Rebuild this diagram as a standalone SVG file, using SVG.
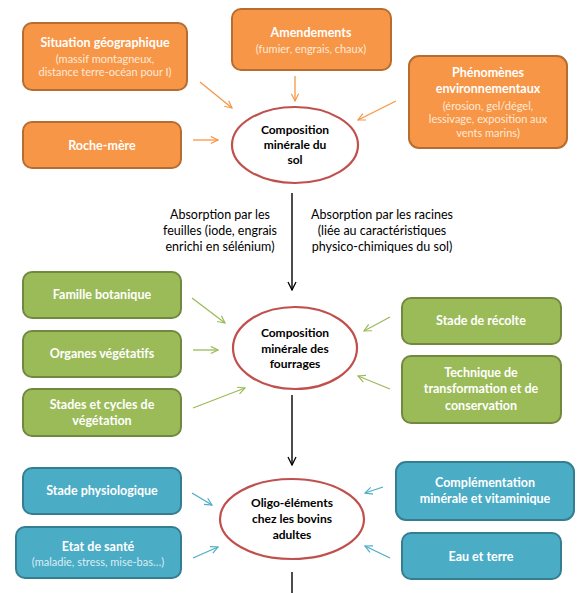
<svg xmlns="http://www.w3.org/2000/svg" width="588" height="593" viewBox="0 0 588 593">
<defs>
<marker id="ao" viewBox="0 0 10 10" refX="9" refY="5" markerWidth="9" markerHeight="9" markerUnits="userSpaceOnUse" orient="auto"><path d="M1,1 L9,5 L1,9" fill="none" stroke="#F79646" stroke-width="1.3"/></marker>
<marker id="ag" viewBox="0 0 10 10" refX="9" refY="5" markerWidth="9" markerHeight="9" markerUnits="userSpaceOnUse" orient="auto"><path d="M1,1 L9,5 L1,9" fill="none" stroke="#9BBB59" stroke-width="1.3"/></marker>
<marker id="ab" viewBox="0 0 10 10" refX="9" refY="5" markerWidth="9" markerHeight="9" markerUnits="userSpaceOnUse" orient="auto"><path d="M1,1 L9,5 L1,9" fill="none" stroke="#4BACC6" stroke-width="1.3"/></marker>
<marker id="ak" viewBox="0 0 10 10" refX="9" refY="5" markerWidth="10" markerHeight="10" markerUnits="userSpaceOnUse" orient="auto"><path d="M1,1 L9,5 L1,9" fill="none" stroke="#000" stroke-width="1.3"/></marker>
</defs>
<style>
.o{fill:#F79646;stroke:#B66D31;stroke-width:2}
.g{fill:#9BBB59;stroke:#71893F;stroke-width:2}
.b{fill:#4BACC6;stroke:#357D91;stroke-width:2}
.e{fill:#fff;stroke:#C0504D;stroke-width:2.2}
text{font-family:"Lato","Liberation Sans",sans-serif;text-anchor:middle}
.t{fill:#fff;font-weight:bold;font-size:12.5px}
.s{fill:#FDE9D9;font-size:11px}
.sb{fill:#DAEEF3;font-size:11px}
.k{fill:#000;font-weight:bold;font-size:12px}
.n{fill:#000;font-size:12.5px}
.co{stroke:#F79646;stroke-width:1.3;fill:none;marker-end:url(#ao)}
.cg{stroke:#9BBB59;stroke-width:1.3;fill:none;marker-end:url(#ag)}
.cb{stroke:#4BACC6;stroke-width:1.3;fill:none;marker-end:url(#ab)}
.ck{stroke:#000;stroke-width:1.4;fill:none}
</style>
<rect width="588" height="593" fill="#fff"/>
<g id="connectors">
<line class="co" x1="200" y1="82" x2="232" y2="108"/>
<line class="co" x1="193" y1="140" x2="218" y2="140"/>
<line class="co" x1="295" y1="76" x2="295" y2="101"/>
<line class="co" x1="396" y1="101" x2="358" y2="120"/>
<line class="ck" x1="292" y1="193" x2="292" y2="290" marker-end="url(#ak)"/>
<line class="cg" x1="192" y1="298" x2="225" y2="323"/>
<line class="cg" x1="193" y1="350" x2="218" y2="350"/>
<line class="cg" x1="193" y1="408" x2="245" y2="388"/>
<line class="cg" x1="390" y1="317" x2="364" y2="331"/>
<line class="cg" x1="390" y1="389" x2="358" y2="376"/>
<line class="ck" x1="292" y1="395" x2="292" y2="465" marker-end="url(#ak)"/>
<line class="cb" x1="192" y1="493" x2="212" y2="505"/>
<line class="cb" x1="193" y1="558" x2="218" y2="547"/>
<line class="cb" x1="383" y1="487" x2="365" y2="493"/>
<line class="cb" x1="390" y1="558" x2="365" y2="546"/>
<line class="ck" x1="292" y1="572" x2="292" y2="593"/>
</g>
<g id="situation"><rect class="o" x="23" y="23" width="164" height="67" rx="9"/>
<text class="t" x="105" y="47">Situation géographique</text>
<text class="s" x="105" y="63">(massif montagneux,</text>
<text class="s" x="105" y="76">distance terre-océan pour I)</text></g>
<g id="roche"><rect class="o" x="23" y="122" width="158" height="46" rx="9"/>
<text class="t" x="102" y="150">Roche-mère</text></g>
<g id="amendements"><rect class="o" x="232" y="9" width="159" height="61" rx="9"/>
<text class="t" x="311" y="37">Amendements</text>
<text class="s" x="311" y="53">(fumier, engrais, chaux)</text></g>
<g id="phenomenes"><rect class="o" x="409" y="56" width="158" height="92" rx="10"/>
<text class="t" x="488" y="77">Phénomènes</text>
<text class="t" x="488" y="93">environnementaux</text>
<text class="s" x="488" y="110">(érosion, gel/dégel,</text>
<text class="s" x="488" y="123">lessivage, exposition aux</text>
<text class="s" x="488" y="137">vents marins)</text></g>
<g id="sol"><ellipse class="e" cx="295" cy="145" rx="63" ry="38"/>
<text class="k" x="295" y="134">Composition</text>
<text class="k" x="295" y="149">minérale du</text>
<text class="k" x="295" y="164">sol</text></g>
<g id="absorption-feuilles">
<text class="n" x="220" y="219">Absorption par les</text>
<text class="n" x="220" y="235">feuilles (iode, engrais</text>
<text class="n" x="220" y="251">enrichi en sélénium)</text></g>
<g id="absorption-racines">
<text class="n" x="382" y="219">Absorption par les racines</text>
<text class="n" x="382" y="235">(liée au caractéristiques</text>
<text class="n" x="382" y="251">physico-chimiques du sol)</text></g>
<g id="famille"><rect class="g" x="23" y="272" width="158" height="46" rx="9"/>
<text class="t" x="102" y="299">Famille botanique</text></g>
<g id="organes"><rect class="g" x="23" y="331" width="158" height="46" rx="9"/>
<text class="t" x="102" y="358">Organes végétatifs</text></g>
<g id="stades"><rect class="g" x="23" y="389" width="158" height="47" rx="9"/>
<text class="t" x="102" y="409">Stades et cycles de</text>
<text class="t" x="102" y="425">végétation</text></g>
<g id="fourrages"><ellipse class="e" cx="295" cy="348" rx="62" ry="41"/>
<text class="k" x="295" y="337">Composition</text>
<text class="k" x="295" y="353">minérale des</text>
<text class="k" x="295" y="368">fourrages</text></g>
<g id="recolte"><rect class="g" x="402" y="298" width="159" height="46" rx="9"/>
<text class="t" x="481" y="325">Stade de récolte</text></g>
<g id="technique"><rect class="g" x="402" y="356" width="159" height="67" rx="9"/>
<text class="t" x="481" y="377">Technique de</text>
<text class="t" x="481" y="393">transformation et de</text>
<text class="t" x="481" y="410">conservation</text></g>
<g id="physio"><rect class="b" x="23" y="468" width="158" height="46" rx="9"/>
<text class="t" x="102" y="495">Stade physiologique</text></g>
<g id="sante"><rect class="b" x="16" y="527" width="165" height="51" rx="9"/>
<text class="t" x="98" y="551">Etat de santé</text>
<text class="sb" x="98" y="566">(maladie, stress, mise-bas…)</text></g>
<g id="bovins"><ellipse class="e" cx="292" cy="519" rx="72" ry="40"/>
<text class="k" x="292" y="507">Oligo-éléments</text>
<text class="k" x="292" y="523">chez les bovins</text>
<text class="k" x="292" y="539">adultes</text></g>
<g id="complementation"><rect class="b" x="396" y="462" width="178" height="58" rx="10"/>
<text class="t" x="485" y="487">Complémentation</text>
<text class="t" x="485" y="503">minérale et vitaminique</text></g>
<g id="eau"><rect class="b" x="402" y="533" width="159" height="46" rx="9"/>
<text class="t" x="481" y="561">Eau et terre</text></g>
</svg>
